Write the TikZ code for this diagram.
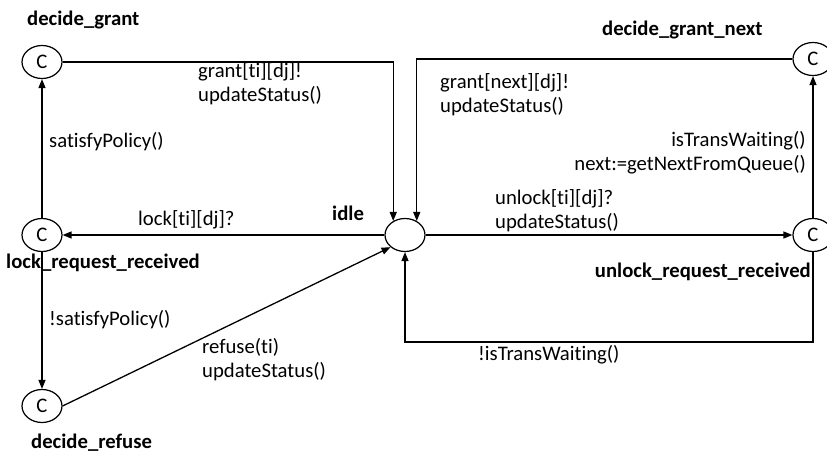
\documentclass[tikz,border=0pt]{standalone}
\usepackage{fontspec}
\setmainfont{Carlito}[Ligatures=CommonOff]
\usetikzlibrary{arrows.meta,positioning,shapes.geometric}
\newcommand{\labelsize}{\fontsize{20.7}{23.5}\selectfont}
\tikzset{
  loc/.style={ellipse, draw=black, line width=1.2pt, minimum width=40pt, minimum height=33pt, inner sep=0pt},
  locname/.style={font=\labelsize\bfseries, inner sep=0pt, anchor=base west},
  guard/.style={inner sep=0pt, align=left, anchor=base west},
  arrow/.style={-{Triangle[length=9pt,width=7pt]}, line width=1.3pt}
}

\begin{document}
\begin{tikzpicture}[x=1pt, y=-1pt, font=\labelsize]
\useasboundingbox (0,0) rectangle (827,455);
\node[loc] (dg) at (42,62) {C};
\node[loc] (lrr) at (42,235) {C};
\node[loc] (dr) at (42,406) {C};
\node[loc] (idle) at (405,235) {};
\node[loc] (urr) at (813,235) {C};
\node[loc] (dgn) at (813,59) {C};
\node[locname] (dgname) at (27,25) {decide\_grant};
\node[locname] (lrrname) at (6,268) {lock\_request\_received};
\node[locname] (drname) at (31,448) {decide\_refuse};
\node[locname] (idlename) at (332,220) {idle};
\node[locname] (dgnname) at (602,35) {decide\_grant\_next};
\node[locname, anchor=base east] (urrname) at (811,277) {unlock\_request\_received};
\node[guard] (g1) at (198,101) {grant[ti][dj]!\\updateStatus()};
\node[guard] (g2) at (49,147) {satisfyPolicy()};
\node[guard] (g3) at (138,225) {lock[ti][dj]?};
\node[guard] (g4) at (49,325) {!satisfyPolicy()};
\node[guard] (g5) at (202,377) {refuse(ti)\\updateStatus()};
\node[guard] (g6) at (440,112) {grant[next][dj]!\\updateStatus()};
\node[guard, align=right, anchor=base east] (g7) at (806,170) {isTransWaiting()\\next:=getNextFromQueue()};
\node[guard] (g8) at (495,228) {unlock[ti][dj]?\\updateStatus()};
\node[guard] (g9) at (478,360) {!isTransWaiting()};
\draw[arrow] (dg.east) -| (idle.130);
\draw[arrow] (dgn.west) -| (idle.50);
\draw[arrow] (idle.west) -- (lrr.east);
\draw[arrow] (lrr.north) -- (dg.south); \draw[arrow] (lrr.south) -- (dr.north);
\draw[arrow] (dr.east) -- (idle.220);
\draw[arrow] (idle.east) -- (urr.west);
\draw[arrow] (urr.north) -- (dgn.south);
\draw[arrow] (urr.south) -- ++(0,90) -| (idle.south);
\end{tikzpicture}
\end{document}
